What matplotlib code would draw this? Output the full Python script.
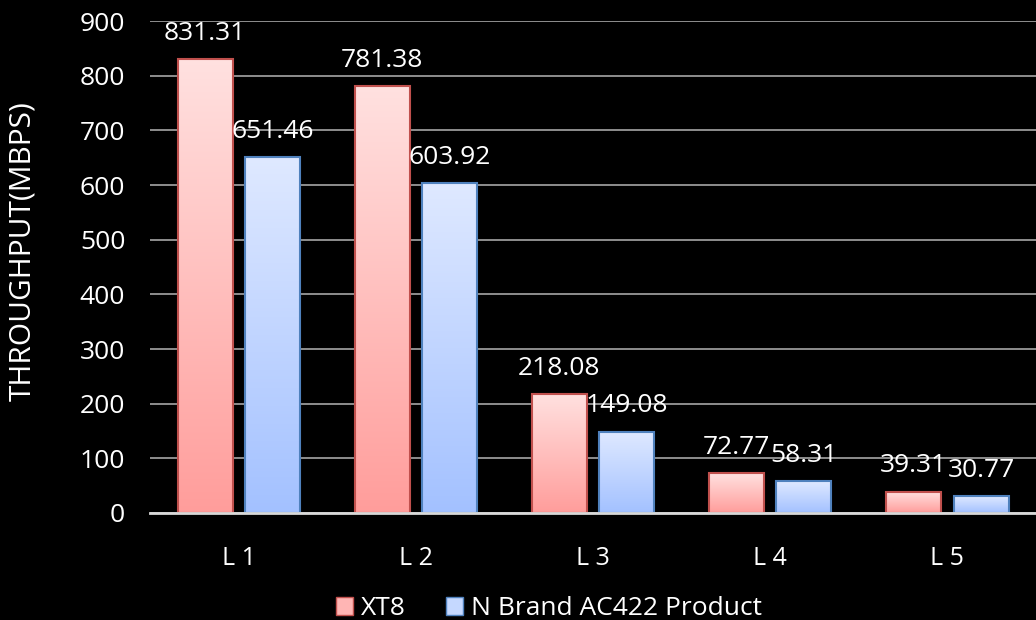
import numpy as np
import matplotlib.pyplot as plt
from matplotlib.colors import LinearSegmentedColormap
from matplotlib.patches import Patch

# data
categories = ["L 1", "L 2", "L 3", "L 4", "L 5"]
xt8 = [831.31, 781.38, 218.08, 72.77, 39.31]
nbrand = [651.46, 603.92, 149.08, 58.31, 30.77]
series_names = ["XT8", "N Brand AC422 Product"]

plt.rcParams['font.family'] = ['Open Sans', 'DejaVu Sans']

fig = plt.figure(figsize=(10.36, 6.2), dpi=100, facecolor="black")
ax = fig.add_axes([0.145, 0.1726, 0.855, 0.7934], facecolor="black")

red_cmap = LinearSegmentedColormap.from_list("r", ["#FF9D9B", "#FFE1E0"])
blue_cmap = LinearSegmentedColormap.from_list("b", ["#A3C1FF", "#DFE9FF"])

x = np.arange(len(categories))
w = 0.31
off = 0.19


def grad_bars(xs, vals, cmap, edge):
    bars = ax.bar(xs, vals, w, facecolor="none", edgecolor=edge, linewidth=1.5, zorder=3)
    grad = np.linspace(0, 1, 256).reshape(-1, 1)
    for b in bars:
        x0, y0 = b.get_x(), b.get_y()
        im = ax.imshow(grad, cmap=cmap, origin="lower", aspect="auto",
                       extent=[x0, x0 + b.get_width(), y0, y0 + b.get_height()],
                       zorder=2)
        im.set_clip_path(b)
    for b, v in zip(bars, vals):
        ax.text(b.get_x() + b.get_width() / 2, v + 24, "%.2f" % v,
                ha="center", va="bottom", color="white", fontsize=19, zorder=4)


grad_bars(x - off, xt8, red_cmap, "#C0504D")
grad_bars(x + off, nbrand, blue_cmap, "#4F81BD")

ax.set_xlim(-0.5, len(categories) - 0.5)
ax.set_ylim(0, 900)
ax.set_yticks(np.arange(0, 901, 100))
ax.set_xticks(x)
ax.set_xticklabels(categories)
ax.tick_params(axis="both", colors="white", length=0)
ax.tick_params(axis="y", labelsize=19, pad=18)
ax.tick_params(axis="x", labelsize=18, pad=24)
ax.yaxis.grid(True, color="#A6A6A6", linewidth=1.2, zorder=1)
ax.set_axisbelow(True)
for s in ["top", "right", "left"]:
    ax.spines[s].set_visible(False)
ax.spines["bottom"].set_color("#D9D9D9")
ax.spines["bottom"].set_linewidth(2)
ax.spines["bottom"].set_zorder(5)

fig.text(23 / 1036, 0.595, "THROUGHPUT(MBPS)", rotation=90, color="white",
         fontsize=21.5, ha="center", va="center")

handles = [Patch(facecolor="#FFB5B4", edgecolor="#C0504D"),
           Patch(facecolor="#C5D8FF", edgecolor="#4F81BD")]
fig.legend(handles, series_names, loc="lower center", bbox_to_anchor=(0.53, -0.04),
           ncol=2, frameon=False, fontsize=19, labelcolor="white",
           handlelength=0.65, handleheight=0.65, handletextpad=0.3, columnspacing=1.5)

fig.savefig("out.png", dpi=100, facecolor="black")
